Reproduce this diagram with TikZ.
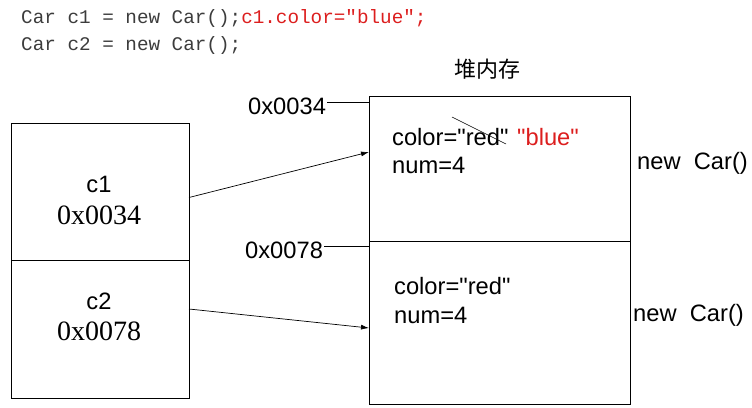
\documentclass[tikz,border=0pt]{standalone}
\usepackage{fontspec}
\setmainfont{Liberation Serif}
\setsansfont{Liberation Sans}
\setmonofont{Liberation Mono}
\newfontfamily\cjkfont{Noto Sans CJK SC}
\usetikzlibrary{arrows.meta}
\definecolor{codegray}{RGB}{60,60,60}
\definecolor{codered}{RGB}{220,30,30}
\newcommand{\dq}{\textquotedbl}
\begin{document}
\begin{tikzpicture}[x=1pt,y=-1pt,
  box/.style={draw=black,line width=0.9pt,inner sep=0pt,outer sep=0pt},
  code/.style={font=\ttfamily\fontsize{19.3}{22}\selectfont,text=codegray,anchor=base west,inner sep=0pt},
  sans/.style={font=\sffamily\fontsize{23.7}{26}\selectfont,inner sep=0pt},
  serif/.style={font=\rmfamily\fontsize{28}{30}\selectfont,inner sep=0pt},
  link/.style={line width=0.6pt},
  ptr/.style={line width=0.7pt,-{Latex[length=8pt,width=5pt]}}]
\useasboundingbox (0,0) rectangle (752,407);
% code
\node[code] (code1) at (21,23) {Car c1 = new Car();\textcolor{codered}{c1.color="blue";}};
\node[code] (code2) at (21,50) {Car c2 = new Car();};
\node[font=\cjkfont\fontsize{22}{24}\selectfont,inner sep=0pt] (heap) at (487,69) {堆内存};
% left boxes
\node[box,minimum width=178pt,minimum height=137pt,anchor=north west] (c1box) at (11,123) {};
\node[box,minimum width=178pt,minimum height=138pt,anchor=north west] (c2box) at (11,260) {};
\node[sans,anchor=base] (c1name) at (99,192) {c1};
\node[serif,anchor=base] (c1addr) at (99,224) {0x0034};
\node[sans,anchor=base] (c2name) at (99,309) {c2};
\node[serif,anchor=base] (c2addr) at (99,340) {0x0078};
% heap boxes
\node[box,minimum width=261pt,minimum height=145pt,anchor=north west] (obj1) at (369,96) {};
\node[box,minimum width=261pt,minimum height=163pt,anchor=north west] (obj2) at (369,241) {};
\node[sans,anchor=base west] (o1color) at (392,145) {color=\dq red\dq};
\node[sans,anchor=base west,text=codered] (o1blue) at (517,145) {\dq blue\dq};
\node[sans,anchor=base west] (o1num) at (392,173) {num=4};
\node[sans,anchor=base west] (o2color) at (394,294) {color=\dq red\dq};
\node[sans,anchor=base west] (o2num) at (394,323) {num=4};
\node[sans,anchor=base west] (new1) at (637,169) {new\ \ Car()};
\node[sans,anchor=base west] (new2) at (633,321) {new\ \ Car()};
% address labels
\node[sans,anchor=base west] (addr1) at (248,114) {0x0034};
\node[sans,anchor=base west] (addr2) at (245,258) {0x0078};
\draw[link] ([yshift=4pt,xshift=1pt]addr1.east) -- ([yshift=4pt,xshift=1pt]addr1.east -| obj1.west);
\draw[link] ([yshift=4pt,xshift=1pt]addr2.east) -- ([yshift=4pt,xshift=1pt]addr2.east -| obj2.west);
% strike
\coordinate (s1) at (452,117);
\coordinate (s2) at (506,144);
\draw[line width=0.5pt] (s1) -- (s2);
% pointers
\draw[ptr] ([yshift=-6pt]c1box.east) -- ([yshift=16.5pt]obj1.west);
\draw[ptr] ([yshift=20pt]c2box.east) -- ([yshift=-5.5pt]obj2.west);
\end{tikzpicture}
\end{document}
